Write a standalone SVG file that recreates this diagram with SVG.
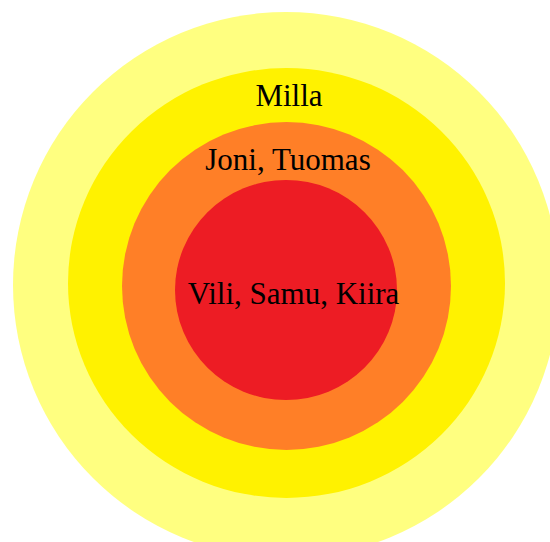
<svg xmlns="http://www.w3.org/2000/svg" width="550" height="542" viewBox="0 0 550 542">
<style>
.lbl{font-family:"Liberation Serif","Times New Roman",serif;font-size:31px;fill:#000;text-anchor:middle}
</style>
<rect width="550" height="542" fill="#ffffff"/>
<g id="ring-outer"><ellipse cx="286" cy="285" rx="273" ry="273" fill="#FFFF80"/></g>
<g id="ring-milla"><ellipse cx="286.5" cy="283" rx="218.5" ry="215" fill="#FFF200"/><text class="lbl" x="289" y="106">Milla</text></g>
<g id="ring-joni"><ellipse cx="286.5" cy="286" rx="164.5" ry="164" fill="#FF7F27"/><text class="lbl" x="288" y="170">Joni, Tuomas</text></g>
<g id="ring-vili"><ellipse cx="286" cy="290" rx="111" ry="110" fill="#ED1C24"/><text class="lbl" x="293.5" y="304">Vili, Samu, Kiira</text></g>
<g id="connectors"/>
</svg>
